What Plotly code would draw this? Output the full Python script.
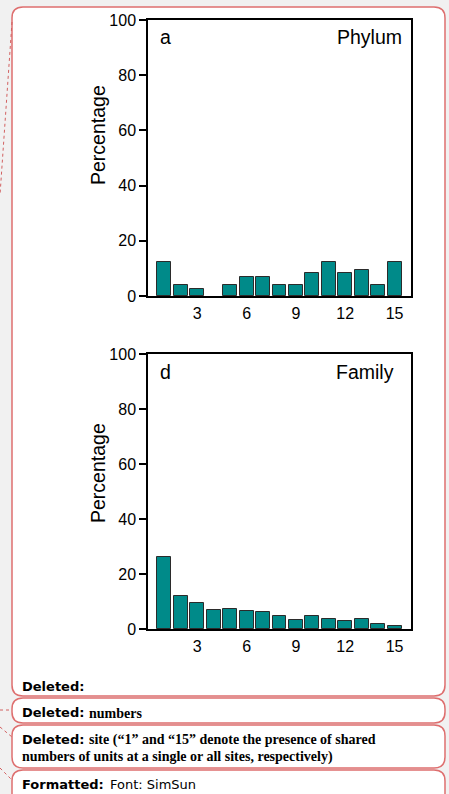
import plotly.graph_objects as go

W, H = 449, 794

sites = list(range(1, 16))
phylum_pct = [12.3, 4.1, 2.7, 0, 4.1, 6.8, 6.8, 4.1, 4.1, 8.2, 12.3, 8.2, 9.6, 4.1, 12.3]
family_pct = [26.1, 12.0, 9.5, 6.8, 7.2, 6.4, 6.3, 4.9, 3.3, 4.9, 3.5, 2.9, 3.5, 1.7, 1.2]
x_ticks = [3, 6, 9, 12, 15]
y_ticks = [0, 20, 40, 60, 80, 100]

TEAL = "#008a89"
FONT = "Liberation Sans, Arial, sans-serif"

def px(x, y):
    return x / W, 1 - y / H

def bar(vals, xa, ya):
    return go.Bar(x=sites, y=vals, xaxis=xa, yaxis=ya, width=0.85,
                  marker=dict(color=TEAL, line=dict(color="#2b2b2b",
                                                    width=[1 if v > 0 else 0 for v in vals])),
                  showlegend=False, hoverinfo="skip")

fig = go.Figure()
fig.add_trace(bar(phylum_pct, "x", "y"))
fig.add_trace(bar(family_pct, "x2", "y2"))

xdom = [148 / W, 411 / W]
ax_common = dict(showline=True, mirror=True, linecolor="black", linewidth=1.5,
                 showgrid=False, zeroline=False, automargin=False)
xa = dict(ax_common, range=[0, 16], tickvals=x_ticks, ticks="outside", ticklen=2,
          tickcolor="rgba(0,0,0,0)", tickfont=dict(family=FONT, size=16, color="black"))
ya = dict(ax_common, range=[0, 100], tickvals=y_ticks, ticks="outside", ticklen=7,
          tickwidth=1.5, tickcolor="black", tickfont=dict(family=FONT, size=16, color="black"))

fig.update_layout(
    width=W, height=H, autosize=False,
    margin=dict(l=0, r=0, t=0, b=0, pad=0, autoexpand=False),
    paper_bgcolor="#f1f1f1",
    plot_bgcolor="white",
    bargap=0,
    xaxis=dict(xa, domain=xdom, anchor="y"),
    yaxis=dict(ya, domain=[1 - 296 / H, 1 - 20 / H], anchor="x"),
    xaxis2=dict(xa, domain=xdom, anchor="y2"),
    yaxis2=dict(ya, domain=[1 - 629 / H, 1 - 354 / H], anchor="x2"),
)

def rrect(x0, y0, x1, y1, r):
    pts = [("M", [(x0 + r, y0)]), ("L", [(x1 - r, y0)]), ("Q", [(x1, y0), (x1, y0 + r)]),
           ("L", [(x1, y1 - r)]), ("Q", [(x1, y1), (x1 - r, y1)]), ("L", [(x0 + r, y1)]),
           ("Q", [(x0, y1), (x0, y1 - r)]), ("L", [(x0, y0 + r)]), ("Q", [(x0, y0), (x0 + r, y0)])]
    s = ""
    for cmd, ps in pts:
        s += cmd + " " + " ".join("%.5f,%.5f" % px(a, b) for a, b in ps) + " "
    return s + "Z"

RED = "#de6f6f"
shapes = []
for (y0, y1) in [(7, 696), (698, 723), (725, 768), (770, 806)]:
    shapes.append(dict(type="path", path=rrect(12, y0, 445, y1, 11), xref="paper", yref="paper",
                       fillcolor="white", line=dict(color=RED, width=1.5), layer="below"))
# dotted connectors in the margin
for (a, b, c, d) in [(12, 22, 0, 195), (0, 710, 12, 710), (0, 727, 12, 737), (0, 768, 12, 780)]:
    x0, y0 = px(a, b)
    x1, y1 = px(c, d)
    shapes.append(dict(type="line", x0=x0, y0=y0, x1=x1, y1=y1, xref="paper", yref="paper",
                       line=dict(color="#d26060", width=1, dash="dot")))
fig.update_layout(shapes=shapes)

ann = []
def text(x, y, t, size, family=FONT, xanchor="left", angle=0, color="black"):
    xx, yy = px(x, y)
    ann.append(dict(x=xx, y=yy, xref="paper", yref="paper", text=t, showarrow=False,
                    xanchor=xanchor, yanchor="middle", textangle=angle,
                    font=dict(family=family, size=size, color=color)))

text(98, 135, "Percentage", 19.5, xanchor="center", angle=-90)
text(98, 473, "Percentage", 19.5, xanchor="center", angle=-90)
text(158, 37, "a", 19.5)
text(404, 37, "Phylum", 19.5, xanchor="right")
text(158, 372, "d", 19.5)
text(396, 372, "Family", 19.5, xanchor="right")

SANS = "DejaVu Sans, Verdana, sans-serif"
SERIF = "Liberation Serif, Times New Roman, serif"
text(20, 686, "<b>Deleted:</b>", 13, SANS)
text(20, 712, "<b>Deleted:</b>", 13, SANS)
text(87, 713, "<b>numbers</b>", 14, SERIF)
text(20, 739, "<b>Deleted:</b>", 13, SANS)
text(87, 740, "<b>site (\u201c1\u201d and \u201c15\u201d denote the presence of shared</b>", 14, SERIF)
text(20, 757, "<b>numbers of units at a single or all sites, respectively)</b>", 14, SERIF)
text(20, 784, "<b>Formatted:</b>", 13, SANS)
text(108, 784, "Font: SimSun", 13, SANS)
fig.update_layout(annotations=ann)

POST = (
    "document.documentElement.style.margin='0';"
    "document.documentElement.style.overflow='hidden';"
    "document.body.style.margin='0';"
    "document.body.style.overflow='hidden';"
    "var gd=document.getElementsByClassName('plotly-graph-div')[0];"
    "gd.style.position='fixed';gd.style.top='0px';gd.style.left='0px';"
)

fig.write_html("out.html", config={"displayModeBar": False, "responsive": False},
               post_script=POST)
